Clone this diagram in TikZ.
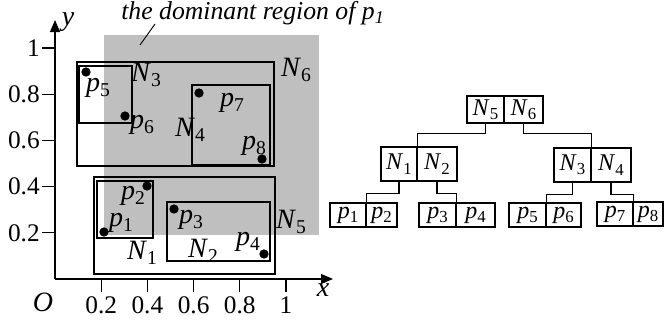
\documentclass[tikz,border=0pt]{standalone}
\usepackage{fontspec}
\setmainfont{Liberation Serif}
\usetikzlibrary{arrows.meta}
\newcommand\pp[1]{\textit{p}\raisebox{-0.4ex}{\scalebox{0.7}{#1}}}
\newcommand\NN[1]{\textit{N}\raisebox{-0.4ex}{\scalebox{0.7}{#1}}}
\begin{document}
\begin{tikzpicture}[x=0.75pt,y=-0.75pt,
  thickbox/.style={line width=1.6pt},
  thinbox/.style={line width=0.8pt},
  lbl/.style={font=\fontsize{21}{24}\selectfont, inner sep=0pt},
  tick/.style={font=\fontsize{19}{22}\selectfont, inner sep=0pt},
  cell/.style={draw, line width=0.8pt, inner sep=0pt, font=\fontsize{18}{21}\selectfont},
  link/.style={line width=0.8pt},
  axis/.style={line width=0.8pt, -{Triangle[length=9pt,width=7.5pt]}}]
\useasboundingbox (0,0) rectangle (665,322);
% dominant region
\fill[gray!50] (104,35) rectangle (319,235);
\node[inner sep=0pt, font=\fontsize{19.3}{22}\selectfont\itshape, anchor=base west] (title) at (121,19) {the dominant region of \pp{1}};
\coordinate (ptrA) at (140,45);
\coordinate (ptrB) at (155,24);
\draw[line width=0.7pt] (ptrA) -- (ptrB);
% axes
\coordinate (O) at (55,279);
\coordinate (ytop) at (55,20);
\coordinate (xend) at (333,279);
\draw[axis] (O) -- (ytop);
\draw[axis] (O) -- (xend);
\foreach \v/\t in {1/0.2,2/0.4,3/0.6,4/0.8,5/1}{
  \draw[line width=0.8pt] (55+46.2*\v,279) -- (55+46.2*\v,292);
  \draw[line width=0.8pt] (42,279-46.2*\v) -- (55,279-46.2*\v);
  \node[tick] at (55+46.2*\v,305) {\t};
  \node[tick, anchor=east] at (40,279-46.2*\v) {\t};
}
\node[lbl] (olbl) at (43,302) {\textit{O}};
\node[lbl] (xlbl) at (323,290) {\textit{x}};
\node[lbl] (ylbl) at (68,22) {\textit{y}};
% rectangles
\draw[thickbox] (77,62) rectangle (274,166);
\draw[thinbox] (79,66) rectangle (132,123);
\draw[thinbox] (192,85) rectangle (270,165);
\draw[thickbox] (94,177) rectangle (275,274);
\draw[thinbox] (97,181) rectangle (153,238);
\draw[thinbox] (167,202) rectangle (270,261);
% points
\foreach \x/\y in {86/72,125/116,199/93,262/159,147/186,104/232,174/209,264/254}
  \fill (\x,\y) circle[radius=3.5pt];
% labels
\node[lbl] at (296,70) {\NN{6}};
\node[lbl] at (146,75) {\NN{3}};
\node[lbl] at (190,130) {\NN{4}};
\node[lbl] at (98,88) {\pp{5}};
\node[lbl] at (142,125) {\pp{6}};
\node[lbl] at (232,103) {\pp{7}};
\node[lbl] at (254,146) {\pp{8}};
\node[lbl] at (133,196) {\pp{2}};
\node[lbl] at (121,223) {\pp{1}};
\node[lbl] at (191,220) {\pp{3}};
\node[lbl] at (248,242) {\pp{4}};
\node[lbl] at (142,253) {\NN{1}};
\node[lbl] at (203,251) {\NN{2}};
\node[lbl] at (291,222) {\NN{5}};
% tree
\node[cell, minimum width=37*0.75pt, minimum height=27*0.75pt] (n5) at (485.5,109.5) {\NN{5}};
\node[cell, minimum width=39*0.75pt, minimum height=27*0.75pt] (n6) at (523.5,109.5) {\NN{6}};
\node[cell, minimum width=36*0.75pt, minimum height=34*0.75pt] (n1) at (399,164) {\NN{1}};
\node[cell, minimum width=40*0.75pt, minimum height=34*0.75pt] (n2) at (437,164) {\NN{2}};
\node[cell, minimum width=37*0.75pt, minimum height=34*0.75pt] (n3) at (572.5,165) {\NN{3}};
\node[cell, minimum width=40*0.75pt, minimum height=34*0.75pt] (n4) at (611,165) {\NN{4}};
\node[cell, minimum width=36*0.75pt, minimum height=24*0.75pt] (p1) at (348,215) {\pp{1}};
\node[cell, minimum width=31*0.75pt, minimum height=24*0.75pt] (p2) at (381.5,215) {\pp{2}};
\node[cell, minimum width=37*0.75pt, minimum height=24*0.75pt] (p3) at (437.5,215) {\pp{3}};
\node[cell, minimum width=39*0.75pt, minimum height=24*0.75pt] (p4) at (475.5,215) {\pp{4}};
\node[cell, minimum width=37*0.75pt, minimum height=24*0.75pt] (p5) at (527.5,215) {\pp{5}};
\node[cell, minimum width=35*0.75pt, minimum height=24*0.75pt] (p6) at (563.5,215) {\pp{6}};
\node[cell, minimum width=36*0.75pt, minimum height=24*0.75pt] (p7) at (615,214) {\pp{7}};
\node[cell, minimum width=30*0.75pt, minimum height=24*0.75pt] (p8) at (648,214) {\pp{8}};
\draw[link] (n5.south) -- ++(0,10) -| (n1.north east);
\draw[link] (n6.south) -- ++(0,10) -| (n3.north east);
\draw[link] (n1.south) -- ++(0,12) -| (p1.north east);
\draw[link] (n2.south) -- ++(0,12) -| (p3.north east);
\draw[link] (n3.south) -- ++(0,12) -| (p5.north east);
\draw[link] (n4.south) -- ++(0,12) -| (p7.north east);
\end{tikzpicture}
\end{document}
